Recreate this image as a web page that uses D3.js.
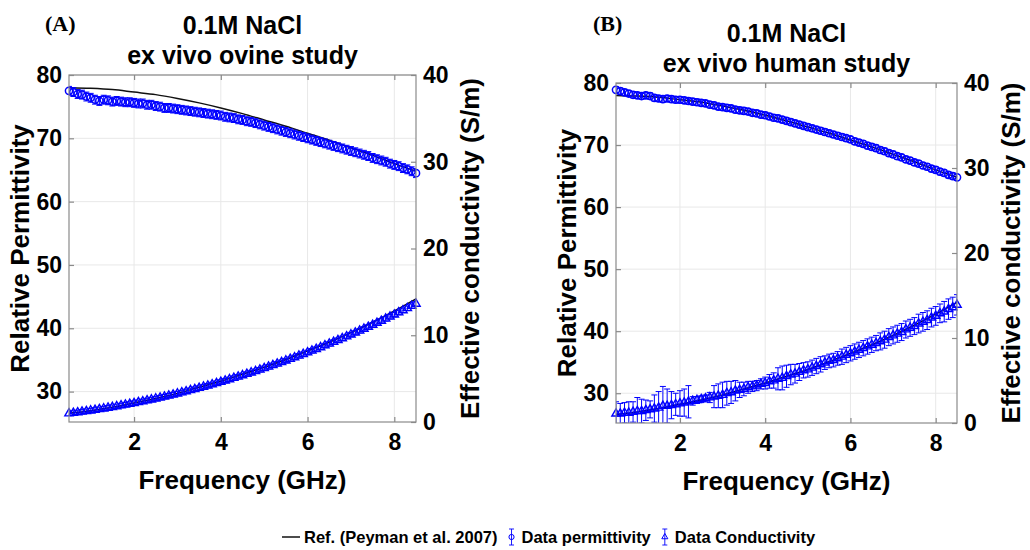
<!DOCTYPE html>
<html>
<head>
<meta charset="utf-8">
<script src="https://cdn.jsdelivr.net/npm/d3@7.9.0/dist/d3.min.js"></script>
<style>
  body { margin: 0; background: #fff; }
  svg { font-family: "Liberation Sans", Arial, sans-serif; font-weight: bold; }
</style>
</head>
<body>
<svg id="chart" width="1030" height="550"></svg>
<script>
// frequency points of the measured data (GHz)
const freq = [0.5,0.6,0.7,0.8,0.9,1.0,1.1,1.2,1.3,1.4,1.5,1.6,1.7,1.8,1.9,2.0,2.1,2.2,2.3,2.4,
  2.5,2.6,2.7,2.8,2.9,3.0,3.1,3.2,3.3,3.4,3.5,3.6,3.7,3.8,3.9,4.0,4.1,4.2,4.3,4.4,
  4.5,4.6,4.7,4.8,4.9,5.0,5.1,5.2,5.3,5.4,5.5,5.6,5.7,5.8,5.9,6.0,6.1,6.2,6.3,6.4,
  6.5,6.6,6.7,6.8,6.9,7.0,7.1,7.2,7.3,7.4,7.5,7.6,7.7,7.8,7.9,8.0,8.1,8.2,8.3,8.4,8.5];

// reference curve (Peyman et al. 2007)
const refFreq = [0.5,1,1.5,2,2.5,3,3.5,4,4.5,5,5.5,6,6.5,7,7.5,8,8.5];
const refPerm = [78.0,77.9,77.7,77.3,76.9,76.3,75.6,74.8,73.9,72.9,71.9,70.8,69.7,68.5,67.3,66.0,64.8];
const refCond = [1.0,1.3,1.7,2.2,2.7,3.3,4.0,4.7,5.5,6.3,7.2,8.2,9.2,10.3,11.5,12.8,14.2];

// (A) ex vivo ovine
const permA = [77.5,77.3,77.0,76.9,76.6,76.4,76.1,75.9,76.1,76.0,75.8,75.9,75.8,75.7,75.7,75.6,75.5,75.5,75.3,75.3,
  75.1,75.0,74.8,74.8,74.7,74.6,74.5,74.4,74.3,74.2,74.1,74.0,73.9,73.8,73.7,73.6,73.4,73.3,73.2,73.0,
  72.9,72.7,72.6,72.4,72.2,72.0,71.8,71.6,71.4,71.2,71.0,70.8,70.6,70.4,70.2,70.0,69.8,69.6,69.4,69.2,
  69.0,68.8,68.6,68.4,68.2,68.0,67.8,67.6,67.4,67.2,66.9,66.7,66.5,66.3,66.0,65.8,65.6,65.3,65.1,64.8,64.5];
const permErrA = 0.7;
const condA = [0.98,1.04,1.11,1.18,1.25,1.32,1.40,1.47,1.55,1.64,1.72,1.81,1.90,1.99,2.08,2.18,2.28,2.38,2.48,2.59,
  2.70,2.81,2.92,3.04,3.16,3.28,3.40,3.53,3.66,3.79,3.92,4.06,4.19,4.33,4.48,4.62,4.77,4.92,5.07,5.22,
  5.38,5.54,5.70,5.86,6.03,6.20,6.37,6.54,6.72,6.90,7.08,7.26,7.45,7.64,7.83,8.02,8.22,8.41,8.61,8.82,
  9.02,9.23,9.44,9.65,9.86,10.08,10.30,10.52,10.74,10.97,11.20,11.43,11.66,11.90,12.14,12.38,12.62,12.87,13.12,13.37,13.62];
const condErrA = 0.25;

// (B) ex vivo human
const permB = [78.9,78.7,78.5,78.3,78.1,78.0,77.9,78.0,77.9,77.6,77.5,77.4,77.5,77.4,77.3,77.3,77.2,77.1,77.0,76.9,
  76.8,76.7,76.5,76.4,76.2,76.1,76.0,75.9,75.7,75.6,75.5,75.4,75.2,75.1,74.9,74.8,74.6,74.4,74.3,74.1,
  73.9,73.7,73.5,73.3,73.1,72.9,72.7,72.5,72.3,72.1,71.9,71.7,71.5,71.3,71.1,70.9,70.6,70.4,70.2,69.9,
  69.7,69.5,69.2,69.0,68.7,68.5,68.2,68.0,67.7,67.5,67.2,67.0,66.7,66.5,66.2,66.0,65.7,65.5,65.2,65.0,64.8];
const permErrB = 0.5;
const condB = [1.1,1.1,1.2,1.2,1.3,1.4,1.4,1.5,1.6,1.7,1.8,2.0,2.0,2.1,2.2,2.3,2.4,2.5,2.6,2.7,
  2.8,2.9,3.0,3.1,3.2,3.3,3.5,3.6,3.8,3.9,4.0,4.2,4.3,4.4,4.6,4.7,4.9,5.0,5.2,5.3,
  5.5,5.7,5.8,6.0,6.2,6.3,6.5,6.7,6.9,7.1,7.3,7.4,7.6,7.8,8.0,8.2,8.4,8.6,8.8,9.0,
  9.2,9.4,9.6,9.8,10.1,10.3,10.5,10.7,11.0,11.2,11.4,11.7,11.9,12.1,12.4,12.6,12.9,13.1,13.4,13.6,13.9];
const condErrB = [1.4,1.2,1.2,1.3,1.2,1.6,1.4,1.2,1.0,1.6,1.9,2.3,2.0,1.6,1.3,1.5,1.6,1.9,0.5,0.4,
  0.4,0.4,0.6,1.3,1.4,1.5,1.4,1.3,1.2,0.9,0.8,0.7,0.6,0.6,0.6,0.7,0.8,0.9,1.3,1.4,
  1.3,1.2,1.1,1.0,0.9,0.9,0.9,0.9,0.9,0.8,0.8,0.8,0.8,0.9,0.9,0.9,0.9,0.9,0.9,0.9,
  0.9,0.9,1.0,1.0,1.0,1.0,1.0,1.0,1.0,1.0,1.0,1.1,1.1,1.1,1.1,1.1,1.1,1.2,1.2,1.2,1.2];

const xTicks = [2, 4, 6, 8];
const leftTicks = [30, 40, 50, 60, 70, 80];
const rightTicks = [0, 10, 20, 30, 40];

const blue = "#0000ff";
const axisColor = "#8a8a8a";
const svg = d3.select("#chart");

function drawPanel(p) {
  const x = d3.scaleLinear().domain([0.5, 8.5]).range([p.left, p.right]);
  const yL = d3.scaleLinear().domain([25.2, 80]).range([p.bottom, p.top]);
  const yR = d3.scaleLinear().domain([0, 40]).range([p.bottom, p.top]);
  const g = svg.append("g");

  // grid
  g.selectAll(".gx").data(xTicks).join("line")
    .attr("x1", d => x(d)).attr("x2", d => x(d))
    .attr("y1", p.top).attr("y2", p.bottom)
    .attr("stroke", "#e8e8e8");
  g.selectAll(".gy").data(leftTicks).join("line")
    .attr("y1", d => yL(d)).attr("y2", d => yL(d))
    .attr("x1", p.left).attr("x2", p.right)
    .attr("stroke", "#e8e8e8");

  const clipId = "clip" + p.name;
  svg.append("clipPath").attr("id", clipId).append("rect")
    .attr("x", p.left).attr("y", p.top)
    .attr("width", p.right - p.left).attr("height", p.bottom - p.top);

  // reference lines (under the data)
  const refLineP = d3.line().x((d, i) => x(refFreq[i])).y(d => yL(d)).curve(d3.curveMonotoneX);
  const refLineC = d3.line().x((d, i) => x(refFreq[i])).y(d => yR(d)).curve(d3.curveMonotoneX);
  g.append("path").attr("d", refLineP(refPerm)).attr("fill", "none").attr("stroke", "#111").attr("stroke-width", 1.5);
  g.append("path").attr("d", refLineC(refCond)).attr("fill", "none").attr("stroke", "#111").attr("stroke-width", 1.5);

  function errorBars(vals, errs, y) {
    const eb = g.append("g").attr("clip-path", `url(#${clipId})`)
      .attr("stroke", blue).attr("stroke-width", 1).attr("fill", "none");
    vals.forEach((v, i) => {
      const e = Array.isArray(errs) ? errs[i] : errs;
      const cx = x(freq[i]), y0 = y(v - e), y1 = y(v + e);
      eb.append("line").attr("x1", cx).attr("x2", cx).attr("y1", y0).attr("y2", y1);
      eb.append("line").attr("x1", cx - 3).attr("x2", cx + 3).attr("y1", y0).attr("y2", y0);
      eb.append("line").attr("x1", cx - 3).attr("x2", cx + 3).attr("y1", y1).attr("y2", y1);
    });
  }

  errorBars(p.perm, p.permErr, yL);
  g.append("g").selectAll("circle").data(p.perm).join("circle")
    .attr("cx", (d, i) => x(freq[i])).attr("cy", d => yL(d)).attr("r", 3.6)
    .attr("fill", "none").attr("stroke", blue).attr("stroke-width", 1.5);

  errorBars(p.cond, p.condErr, yR);
  const tri = d3.symbol(d3.symbolTriangle, 30);
  g.append("g").selectAll("path").data(p.cond).join("path")
    .attr("d", tri)
    .attr("transform", (d, i) => `translate(${x(freq[i])},${yR(d)})`)
    .attr("fill", "none").attr("stroke", blue).attr("stroke-width", 1.4);

  // box
  g.append("rect").attr("x", p.left).attr("y", p.top)
    .attr("width", p.right - p.left).attr("height", p.bottom - p.top)
    .attr("fill", "none").attr("stroke", axisColor).attr("stroke-width", 1.2);

  const styleAxis = sel => {
    sel.attr("font-family", null).attr("font-size", 23);
    sel.select(".domain").remove();
    sel.selectAll(".tick line").attr("stroke", axisColor).attr("stroke-width", 1.2);
    sel.selectAll(".tick text").attr("fill", "#000");
  };
  g.append("g").attr("transform", `translate(0,${p.bottom})`)
    .call(d3.axisBottom(x).tickValues(xTicks).tickFormat(d3.format("d")).tickSizeInner(-5).tickSizeOuter(0).tickPadding(12))
    .call(styleAxis);
  g.append("g").attr("transform", `translate(0,${p.top})`)
    .call(d3.axisTop(x).tickValues(xTicks).tickFormat("").tickSizeInner(-5).tickSizeOuter(0))
    .call(styleAxis);
  g.append("g").attr("transform", `translate(${p.left},0)`)
    .call(d3.axisLeft(yL).tickValues(leftTicks).tickSizeInner(-5).tickSizeOuter(0).tickPadding(7))
    .call(styleAxis);
  g.append("g").attr("transform", `translate(${p.right},0)`)
    .call(d3.axisRight(yR).tickValues(rightTicks).tickSizeInner(-5).tickSizeOuter(0).tickPadding(7))
    .call(styleAxis);

  const cx = (p.left + p.right) / 2, cy = (p.top + p.bottom) / 2;
  g.append("text").attr("x", cx).attr("y", p.bottom + 67).attr("text-anchor", "middle")
    .attr("font-size", 26).text("Frequency (GHz)");
  g.append("text").attr("transform", `translate(${p.left - 49},${cy}) rotate(-90)`)
    .attr("text-anchor", "middle").attr("dy", "0.35em").attr("font-size", 26).text("Relative Permittivity");
  g.append("text").attr("transform", `translate(${p.right + 54},${cy}) rotate(-90)`)
    .attr("text-anchor", "middle").attr("dy", "0.35em").attr("font-size", 26).text("Effective conductivity (S/m)");

  g.append("text").attr("x", cx).attr("y", p.top - 41).attr("text-anchor", "middle")
    .attr("font-size", 25).text(p.title1);
  g.append("text").attr("x", cx).attr("y", p.top - 11).attr("text-anchor", "middle")
    .attr("font-size", 25).text(p.title2);
  g.append("text").attr("x", p.tagX).attr("y", 31)
    .attr("font-family", "'Liberation Serif', 'Times New Roman', serif")
    .attr("font-size", 22).text(p.tag);
}

drawPanel({ name: "A", left: 69, right: 416, top: 75, bottom: 422, tag: "(A)", tagX: 45,
  title1: "0.1M NaCl", title2: "ex vivo ovine study",
  perm: permA, permErr: permErrA, cond: condA, condErr: condErrA });
drawPanel({ name: "B", left: 616, right: 957, top: 83, bottom: 423, tag: "(B)", tagX: 593,
  title1: "0.1M NaCl", title2: "ex vivo human study",
  perm: permB, permErr: permErrB, cond: condB, condErr: condErrB });

// legend
const legendItems = ["Ref. (Peyman et al. 2007)", "Data permittivity", "Data Conductivity"];
const lg = svg.append("g");
const ly = 537;
let lx = 282;
legendItems.forEach((label, i) => {
  if (i === 0) {
    lg.append("line").attr("x1", lx).attr("x2", lx + 18).attr("y1", ly).attr("y2", ly)
      .attr("stroke", "#111").attr("stroke-width", 1.5);
    lx += 22;
  } else {
    lx += 8;
    lg.append("line").attr("x1", lx).attr("x2", lx).attr("y1", ly - 8).attr("y2", ly + 8)
      .attr("stroke", blue).attr("stroke-width", 0.9);
    lg.append("line").attr("x1", lx - 2.5).attr("x2", lx + 2.5).attr("y1", ly - 8).attr("y2", ly - 8)
      .attr("stroke", blue).attr("stroke-width", 0.9);
    lg.append("line").attr("x1", lx - 2.5).attr("x2", lx + 2.5).attr("y1", ly + 8).attr("y2", ly + 8)
      .attr("stroke", blue).attr("stroke-width", 0.9);
    if (i === 1) {
      lg.append("circle").attr("cx", lx).attr("cy", ly).attr("r", 2.6)
        .attr("fill", "none").attr("stroke", blue).attr("stroke-width", 1);
    } else {
      lg.append("path").attr("d", d3.symbol(d3.symbolTriangle, 16))
        .attr("transform", `translate(${lx},${ly})`)
        .attr("fill", "none").attr("stroke", blue).attr("stroke-width", 1);
    }
    lx += 10;
  }
  const t = lg.append("text").attr("x", lx).attr("y", ly).attr("dy", "0.35em")
    .attr("font-size", 16.5).text(label);
  lx += t.node().getComputedTextLength() + 6;
});
</script>
</body>
</html>
